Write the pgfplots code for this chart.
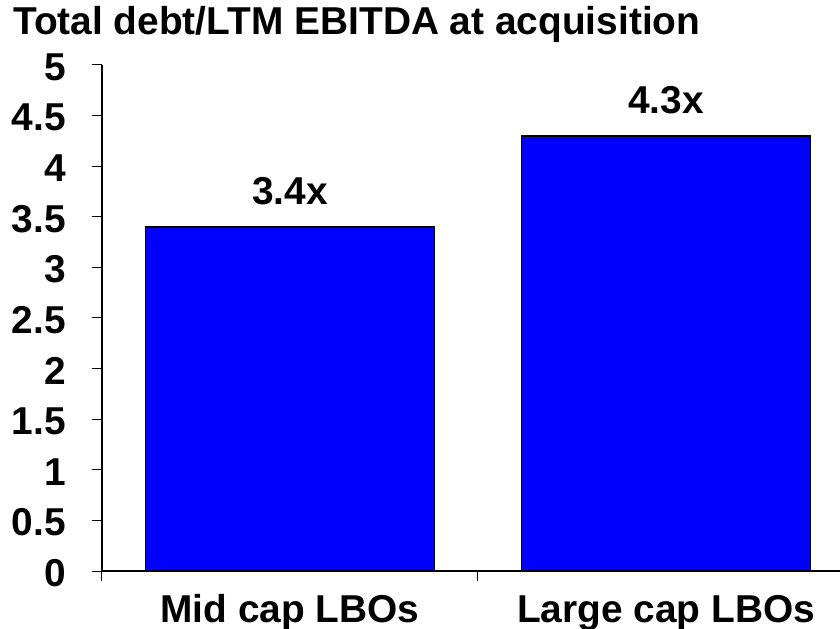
\documentclass[border=0pt]{standalone}
\usepackage{fontspec}
\setmainfont{Liberation Sans}
\usepackage{pgfplots}
\pgfplotsset{compat=1.18}
\definecolor{barblue}{RGB}{0,0,255}
\begin{document}
\begin{tikzpicture}[font=\fontsize{39}{42}\selectfont\bfseries]
\begin{axis}[
  scale only axis, width=738bp, height=506bp,
  xmin=-0.5, xmax=1.4628, ymin=0, ymax=5,
  axis x line*=bottom, axis y line*=left,
  axis line style={line width=1.2bp},
  x axis line style={line width=2bp},
  xtick={0,1}, xticklabels={Mid cap LBOs, Large cap LBOs},
  minor xtick={-0.5,0.5,1.5},
  major x tick style={draw=none},
  ytick={0,0.5,1,1.5,2,2.5,3,3.5,4,4.5,5},
  tick align=outside, major tick length=10bp, minor tick length=10bp,
  tick style={line width=1bp, black},
  /pgf/number format/assume math mode=true,
  yticklabel style={inner sep=0pt, anchor=east, xshift=-26bp, yshift=-2bp},
  xticklabel style={inner sep=0pt, anchor=base, yshift=-41bp},
  ybar, bar width=289bp,
  nodes near coords={\pgfmathprintnumber[fixed,fixed zerofill,precision=1]{\pgfplotspointmeta}x},
  every node near coord/.append style={anchor=base, inner sep=0pt, yshift=22bp},
  clip=false,
]
\addplot[fill=barblue, draw=black, line width=1.5bp] coordinates {(0,3.4) (1,4.3)};
\node[anchor=base west, inner sep=0pt, xshift=-89bp, yshift=30bp] at (rel axis cs:0,1) {Total debt/LTM EBITDA at acquisition};
\end{axis}
\pgfresetboundingbox
\path[use as bounding box] (current axis.south west) ++(-102bp,-58bp) rectangle ++(840bp,629bp);
\end{tikzpicture}
\end{document}
